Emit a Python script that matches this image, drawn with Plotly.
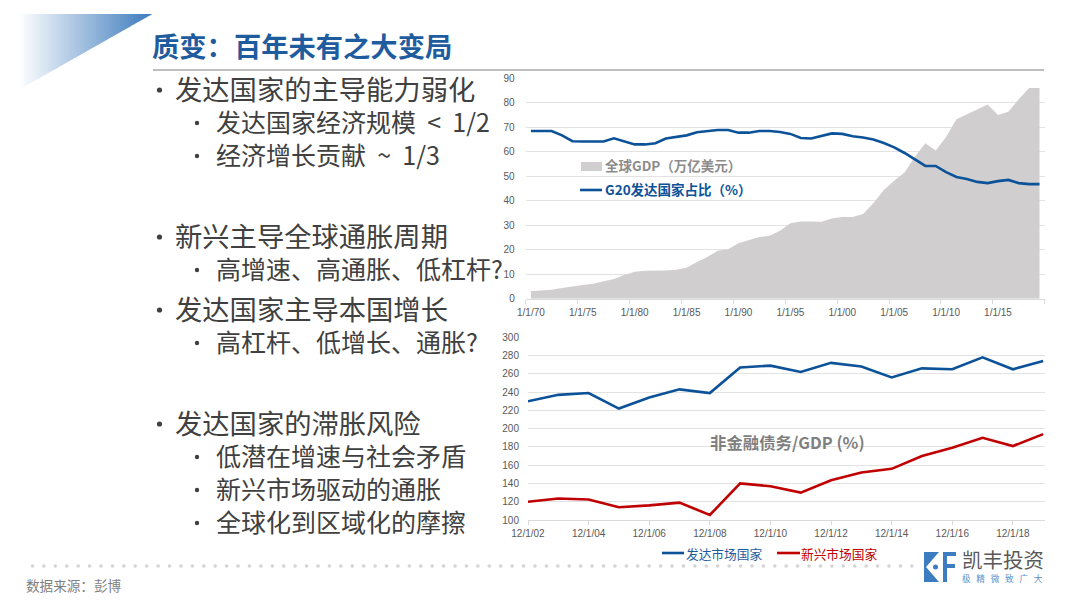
import plotly.graph_objects as go

W, H = 1080, 603

# ---------- data ----------
years = list(range(1970, 2020))
gdp = [3.0, 3.3, 3.7, 4.4, 5.1, 5.6, 6.1, 6.9, 8.0, 9.7,
       11.0, 11.4, 11.4, 11.5, 11.8, 12.6, 15.0, 17.0, 19.6, 20.2,
       22.6, 24.0, 25.2, 25.7, 27.7, 30.8, 31.5, 31.5, 31.4, 32.7,
       33.4, 33.4, 34.6, 39.0, 44.4, 48.2, 51.5, 58.0, 63.5, 60.5,
       66.0, 73.3, 75.4, 77.5, 79.3, 75.0, 76.3, 81.4, 86.0, 86.0]
g20 = [68.5, 68.5, 68.5, 66.7, 64.3, 64.2, 64.2, 64.2, 65.5, 64.1,
       63.0, 63.0, 63.5, 65.4, 66.2, 66.7, 68.0, 68.4, 68.9, 68.9,
       67.8, 67.8, 68.5, 68.5, 68.1, 67.3, 65.6, 65.4, 66.3, 67.5,
       67.3, 66.3, 65.8, 65.0, 63.6, 61.8, 59.5, 56.9, 54.2, 54.2,
       51.7, 49.7, 48.9, 47.7, 47.2, 48.0, 48.5, 47.2, 46.8, 46.8]
top_ticks = list(range(1970, 2020, 5))
top_labels = ["1/1/70", "1/1/75", "1/1/80", "1/1/85", "1/1/90", "1/1/95",
              "1/1/00", "1/1/05", "1/1/10", "1/1/15"]

debt_years = list(range(2002, 2020))
developed = [230, 237, 239, 222, 234, 243, 239, 267, 269, 262, 272, 268, 256, 266, 265, 278, 265, 274]
emerging = [120, 123.5, 122.5, 114, 116, 119, 105.5, 140, 137, 130, 143.5, 152, 156, 170, 179, 190, 181, 194]
bot_ticks = list(range(2002, 2020, 2))
bot_labels = ["12/1/02", "12/1/04", "12/1/06", "12/1/08", "12/1/10",
              "12/1/12", "12/1/14", "12/1/16", "12/1/18"]

NB = "\u00a0"
body_lines = [
    (175, 88, 27.3, "发达国家的主导能力弱化", 159.5),
    (216, 121, 25, f"发达国家经济规模{NB}{NB}<{NB}{NB}1/2", 197),
    (216, 154, 25, f"经济增长贡献{NB}{NB}~{NB}{NB}1/3", 197),
    (175, 235, 27.3, "新兴主导全球通胀周期", 159.5),
    (216, 268, 25, "高增速、高通胀、低杠杆?", 197),
    (175, 308, 27.3, "发达国家主导本国增长", 159.5),
    (216, 341, 25, "高杠杆、低增长、通胀?", 197),
    (175, 422, 27.3, "发达国家的滞胀风险", 159.5),
    (216, 455, 25, "低潜在增速与社会矛盾", 197),
    (216, 488, 25, "新兴市场驱动的通胀", 197),
    (216, 521, 25, "全球化到区域化的摩擦", 197),
]

# ---------- style ----------
BLUE = "#0B5299"
RED = "#C00000"
AREA = "#D0CECE"
GRID = "#E2E2E2"
TICK = "#595959"
CJK = "Noto Sans CJK SC"
LAT = "Liberation Sans"


def px(x):
    return x / W


def py(y):
    return 1 - y / H


def text(x, y, s, size, color, bold=False, anchor="left", family=CJK):
    label = f"<b>{s}</b>" if bold else s
    return dict(xref="paper", yref="paper", x=px(x), y=py(y), text=label, showarrow=False,
                xanchor=anchor, yanchor="middle", borderpad=0, borderwidth=0,
                font=dict(family=family, size=size, color=color))


def rect(x0, y0, x1, y1, color):
    return dict(type="rect", xref="paper", yref="paper", x0=px(x0), x1=px(x1), y0=py(y0), y1=py(y1),
                fillcolor=color, line=dict(width=0), layer="above")


def seg(x0, y0, x1, y1, color, width):
    return dict(type="line", xref="paper", yref="paper", x0=px(x0), x1=px(x1), y0=py(y0), y1=py(y1),
                line=dict(color=color, width=width), layer="above")


def dot(cx, cy, r, color):
    return dict(type="circle", xref="paper", yref="paper", x0=px(cx - r), x1=px(cx + r),
                y0=py(cy + r), y1=py(cy - r), fillcolor=color, line=dict(width=0), layer="above")


fig = go.Figure()
fig.add_trace(go.Scatter(x=years, y=gdp, name="全球GDP\uff08万亿美元\uff09", mode="lines", fill="tozeroy",
                         fillcolor=AREA, line=dict(width=0, color=AREA), xaxis="x", yaxis="y"))
fig.add_trace(go.Scatter(x=years, y=g20, name="G20发达国家占比\uff08%\uff09", mode="lines",
                         line=dict(color=BLUE, width=2.6), xaxis="x", yaxis="y"))
fig.add_trace(go.Scatter(x=debt_years, y=developed, name="发达市场国家", mode="lines",
                         line=dict(color=BLUE, width=2.6), xaxis="x2", yaxis="y2"))
fig.add_trace(go.Scatter(x=debt_years, y=emerging, name="新兴市场国家", mode="lines",
                         line=dict(color=RED, width=2.6), xaxis="x2", yaxis="y2"))

shapes = []
# gradient triangle, drawn as thin slices
TX0, TX1, TY0, TY1 = 20, 152, 14, 89
n = 66
for i in range(n):
    a = i / n
    b = (i + 1) / n
    xa, xb = TX0 + (TX1 - TX0) * a, TX0 + (TX1 - TX0) * b + 0.4
    ya = TY1 + (TY0 - TY1) * a
    yb = TY1 + (TY0 - TY1) * b
    r = int(255 + (62 - 255) * b)
    g = int(255 + (124 - 255) * b)
    bl = int(255 + (190 - 255) * b)
    path = f"M{px(xa)},{py(TY0)} L{px(xb)},{py(TY0)} L{px(xb)},{py(yb)} L{px(xa)},{py(ya)} Z"
    shapes.append(dict(type="path", xref="paper", yref="paper", path=path,
                       fillcolor=f"rgb({r},{g},{bl})", line=dict(width=0), layer="below"))

# title rule
shapes.append(seg(153, 70, 1044, 70, "#BFBFBF", 2))
# top legend marks
shapes.append(rect(581, 162, 602, 171, AREA))
shapes.append(seg(580, 190, 602, 190, BLUE, 2.6))
# bottom legend marks
shapes.append(seg(662, 553, 684, 553, BLUE, 2.6))
shapes.append(seg(777, 553, 800, 553, RED, 2.6))
# dotted footer
for i in range(78):
    shapes.append(dot(32.5 + i * 11.42, 566, 1.8, "#D4D4D4"))
# logo mark
LOGO = "#3B7DC0"
shapes.append(rect(924, 552, 956, 582, LOGO))
shapes.append(dict(type="path", xref="paper", yref="paper", layer="above", fillcolor="white", line=dict(width=0),
                   path=f"M{px(939)},{py(552)} L{px(926)},{py(567)} L{px(939)},{py(582)} L{px(943)},{py(582)} "
                        f"L{px(943)},{py(552)} Z"))
shapes.append(dict(type="path", xref="paper", yref="paper", layer="above", fillcolor="white", line=dict(width=0),
                   path=f"M{px(947)},{py(556)} L{px(956)},{py(556)} L{px(956)},{py(582)} L{px(947)},{py(582)} Z"))
shapes.append(dict(type="path", xref="paper", yref="paper", layer="above", fillcolor=LOGO, line=dict(width=0),
                   path=f"M{px(947)},{py(564)} L{px(955)},{py(564)} L{px(955)},{py(568)} L{px(947)},{py(568)} Z"))
shapes.append(dot(935.5, 567, 2.5, LOGO))

annotations = [
    text(152, 45, "质变\uff1a百年未有之大变局", 27.3, "#1F5C9E", bold=True),
    text(605, 165, "全球GDP\uff08万亿美元\uff09", 13.5, "#8C8C8C", bold=True),
    text(605, 189.5, "G20发达国家占比\uff08%\uff09", 13.5, BLUE, bold=True),
    text(710, 442, "非金融债务/GDP (%)", 16.4, "#7F7F7F", bold=True),
    text(686, 553, "发达市场国家", 12.7, "#1F5C9E"),
    text(801, 553, "新兴市场国家", 12.7, RED),
    text(26, 585, "数据来源\uff1a彭博", 13.6, "#7F7F7F"),
    text(962, 559, "凯丰投资", 20.5, "#595959"),
    text(962, 578, f"极{NB}{NB}{NB}精{NB}{NB}{NB}微{NB}{NB}{NB}致{NB}{NB}{NB}广{NB}{NB}{NB}大", 8.6, "#5B8FC8"),
]
for x, y, size, s, bx in body_lines:
    annotations.append(text(x, y, s, size, "#404040"))
    shapes.append(dot(bx, y + 2, 2.6 if size > 26 else 2.2, "#404040"))

axis_font = dict(family=LAT, size=10, color=TICK)
fig.update_layout(
    width=W, height=H, margin=dict(l=0, r=0, t=0, b=0, pad=0, autoexpand=False), autosize=False,
    paper_bgcolor="white", plot_bgcolor="rgba(0,0,0,0)", showlegend=False,
    shapes=shapes, annotations=annotations,
    xaxis=dict(domain=[px(525.7), px(1044.7)], anchor="y", range=[1969.5, 2019.5],
               tickmode="array", tickvals=top_ticks, ticktext=top_labels, ticks="",
               ticklabelstandoff=4,
               minor=dict(tickmode="array", tickvals=[t - 0.5 for t in top_ticks] + [2019.5],
                          ticks="outside", ticklen=4, tickcolor="#D9D9D9", showgrid=False),
               tickfont=axis_font, showgrid=False, showline=True, linecolor="#D9D9D9", zeroline=False),
    yaxis=dict(domain=[py(298.7), py(78.3)], anchor="x", range=[0, 90], tick0=0, dtick=10,
               tickfont=axis_font, gridcolor=GRID, gridwidth=1, zeroline=False, showline=False,
               ticks="", ticklabelstandoff=10),
    xaxis2=dict(domain=[px(528), px(1044.7)], anchor="y2", range=[2002, 2019.05],
                tickmode="array", tickvals=bot_ticks, ticktext=bot_labels, ticks="outside",
                ticklen=4, tickcolor="#D9D9D9", tickfont=axis_font, showgrid=False,
                showline=True, linecolor="#D9D9D9", zeroline=False),
    yaxis2=dict(domain=[py(520), py(337.3)], anchor="x2", range=[100, 300], tick0=100, dtick=20,
                tickfont=axis_font, gridcolor=GRID, gridwidth=1, zeroline=False, showline=False,
                ticks="", ticklabelstandoff=8),
)

fig.write_html("out.html", config={"displayModeBar": False},
               post_script="document.body.style.margin='0';document.documentElement.style.overflow='hidden';")
